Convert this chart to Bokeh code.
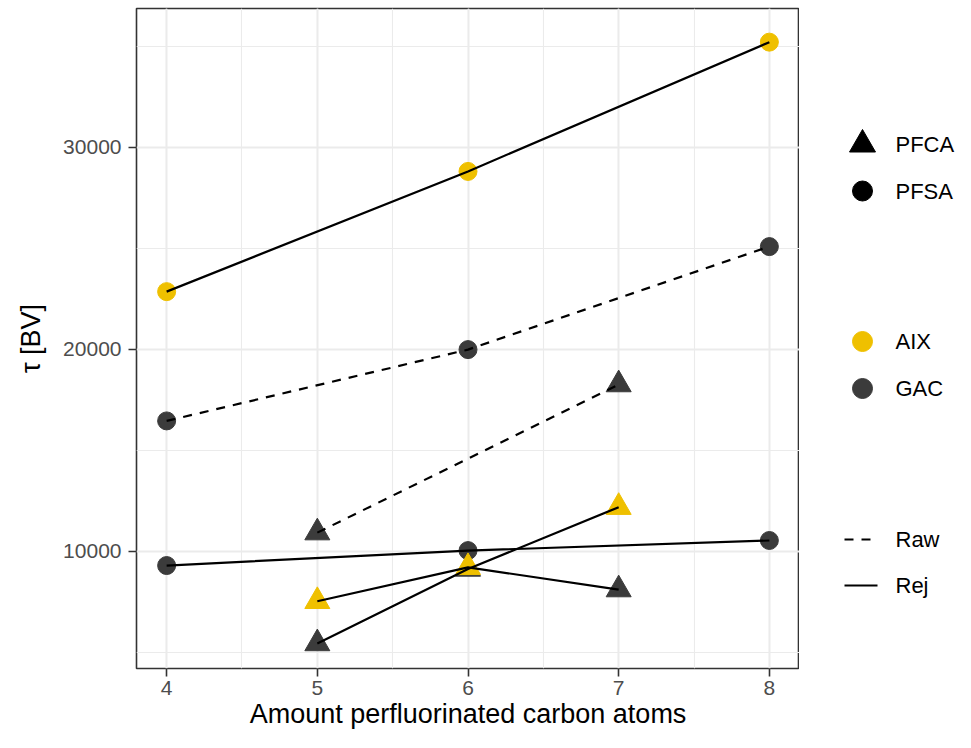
from bokeh.plotting import figure
from bokeh.layouts import row
from bokeh.models import Range1d, SingleIntervalTicker
from bokeh.core.properties import value
from bokeh.embed import file_html
from bokeh.resources import INLINE

# ---------------- data ----------------
carbons_pfsa = [4, 6, 8]
carbons_pfca = [5, 6, 7]
carbons_pfca_raw = [5, 7]

aix_pfsa_rej = [22850, 28800, 35200]
gac_pfsa_raw = [16450, 19980, 25080]
gac_pfsa_rej = [9290, 10030, 10530]
gac_pfca_raw = [10920, 18250]
aix_pfca_rej = [7520, 9200, 12180]
gac_pfca_rej = [5430, 9120, 8100]

shape_labels = ["PFCA", "PFSA"]
color_labels = ["AIX", "GAC"]
line_labels = ["Raw", "Rej"]

AIX = "#EFC000"
GAC = "#3B3B3B"
FONT = "Liberation Sans"

# ---------------- main panel ----------------
p = figure(width=799, height=732, x_range=Range1d(3.8, 8.2), y_range=Range1d(4193, 36866),
           output_backend="svg", toolbar_location=None,
           min_border_left=136, min_border_right=0, min_border_top=8, min_border_bottom=64)
p.background_fill_color = "white"
p.border_fill_color = "white"
p.outline_line_color = "#333333"
p.outline_line_width = 1.6

p.xaxis.ticker = SingleIntervalTicker(interval=1, num_minor_ticks=2)
p.yaxis.ticker = SingleIntervalTicker(interval=10000, num_minor_ticks=2)
for g in (p.xgrid, p.ygrid):
    g.grid_line_color = "#EBEBEB"
    g.grid_line_width = 2.0
    g.minor_grid_line_color = "#EBEBEB"
    g.minor_grid_line_width = 1.1

p.axis.axis_line_color = None
p.axis.major_tick_line_color = "#333333"
p.axis.major_tick_line_width = 1.6
p.axis.major_tick_out = 8
p.axis.major_tick_in = 0
p.axis.minor_tick_line_color = None
p.axis.major_label_text_font = FONT
p.axis.major_label_text_font_size = "21px"
p.axis.major_label_text_color = "#4D4D4D"
p.xaxis.major_label_standoff = 4
p.yaxis.major_label_standoff = 7
p.axis.axis_label_text_font = FONT
p.axis.axis_label_text_font_style = "normal"
p.axis.axis_label_text_font_size = "27px"
p.axis.axis_label_text_color = "black"
p.xaxis.axis_label = "Amount perfluorinated carbon atoms"
p.yaxis.axis_label = "τ [BV]"
p.xaxis.axis_label_standoff = 1
p.yaxis.axis_label_standoff = 14

# points: GAC first, AIX on top
p.scatter(carbons_pfsa, gac_pfsa_raw, marker="circle", size=18, color=GAC)
p.scatter(carbons_pfsa, gac_pfsa_rej, marker="circle", size=18, color=GAC)
p.scatter(carbons_pfca_raw, gac_pfca_raw, marker="triangle", size=25, color=GAC)
p.scatter(carbons_pfca, gac_pfca_rej, marker="triangle", size=25, color=GAC)
p.scatter(carbons_pfsa, aix_pfsa_rej, marker="circle", size=18, color=AIX)
p.scatter(carbons_pfca, aix_pfca_rej, marker="triangle", size=25, color=AIX)

# lines on top
LW = 2.2
p.line(carbons_pfsa, aix_pfsa_rej, line_color="black", line_width=LW)
p.line(carbons_pfsa, gac_pfsa_rej, line_color="black", line_width=LW)
p.line(carbons_pfsa, gac_pfsa_raw, line_color="black", line_width=LW, line_dash="9 8")
p.line(carbons_pfca_raw, gac_pfca_raw, line_color="black", line_width=LW, line_dash="9 8")
rej_path_a = [aix_pfca_rej[0], aix_pfca_rej[1], gac_pfca_rej[2]]
rej_path_b = [gac_pfca_rej[0], gac_pfca_rej[1], aix_pfca_rej[2]]
p.line(carbons_pfca, rej_path_a, line_color="black", line_width=LW)
p.line(carbons_pfca, rej_path_b, line_color="black", line_width=LW)

# ---------------- legend area (screen-pixel coordinates; frame aligned with main panel 8..668) ----------------
q = figure(width=156, height=732, x_range=Range1d(0, 156), y_range=Range1d(668, 8),
           x_axis_location=None, y_axis_location=None, toolbar_location=None,
           output_backend="svg", min_border=0)
q.outline_line_color = None
q.background_fill_color = "white"
q.border_fill_color = "white"
q.xgrid.visible = False
q.ygrid.visible = False

KX = 63
TX = 96
q.scatter([KX], [144], marker="triangle", size=26, color="black")
q.scatter([KX], [190.5], marker="circle", size=20, color="black")
q.scatter([KX], [341], marker="circle", size=20, color=AIX)
q.scatter([KX], [388], marker="circle", size=20, color=GAC)
q.line([45, 78], [539, 539], line_color="black", line_width=LW, line_dash="9 8")
q.line([45, 78], [585, 585], line_color="black", line_width=LW)

for labels, ys in ((shape_labels, [144, 190.5]), (color_labels, [341, 388]), (line_labels, [539, 585])):
    q.text(x=[TX, TX], y=ys, text=labels, text_baseline="middle", text_align="left",
           text_font=value(FONT), text_font_size="22px", text_color="black")

layout = row(p, q)
open("out.html", "w").write(file_html(layout, INLINE))
